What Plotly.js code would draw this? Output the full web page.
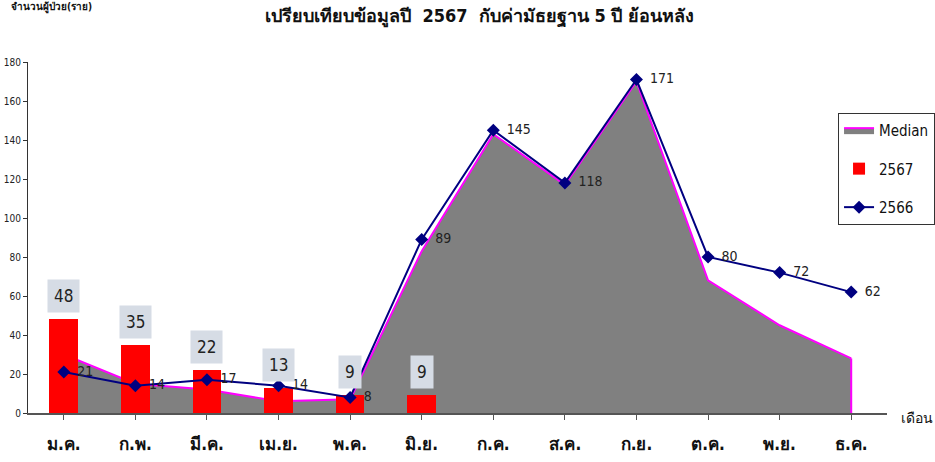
<!DOCTYPE html>
<html>
<head>
<meta charset="utf-8">
<script src="https://cdn.plot.ly/plotly-3.0.1.min.js"></script>
<style>html,body{margin:0;padding:0;background:#fff;}#chart{width:935px;height:462px;}</style>
</head>
<body>
<div id="chart"></div>
<script>
const months = ['ม.ค.','ก.พ.','มี.ค.','เม.ย.','พ.ค.','มิ.ย.','ก.ค.','ส.ค.','ก.ย.','ต.ค.','พ.ย.','ธ.ค.'];
const median = [30, 15, 12, 6, 7, 83, 143, 117, 170, 68, 45, 28];
const y2567 = [48, 35, 22, 13, 9, 9, null, null, null, null, null, null];
const y2566 = [21, 14, 17, 14, 8, 89, 145, 118, 171, 80, 72, 62];

const FONT = '"DejaVu Sans Condensed", "Liberation Sans Narrow", "Arial Narrow", sans-serif';

function f(size, color, weight) {
  return {family: FONT, size: size, color: color || '#111', stretch: 'condensed', weight: weight || 'normal'};
}

const traces = [
  {
    type: 'scatter', mode: 'lines', name: 'Median', x: months, y: median,
    fill: 'tozeroy', fillcolor: '#808080', line: {color: '#ff00ff', width: 2},
    xaxis: 'x', yaxis: 'y', legendgroup: 'a', hoverinfo: 'skip'
  },
  {
    type: 'bar', name: '2567', x: months, y: y2567, width: 0.4,
    marker: {color: '#ff0000'}, xaxis: 'x2', yaxis: 'y2', legendgroup: 'b'
  },
  {
    type: 'scatter', mode: 'lines+markers+text', name: '2566', x: months, y: y2566,
    line: {color: '#000080', width: 2}, marker: {symbol: 'diamond', size: 10, color: '#000080'},
    text: y2566.map(v => '\u2002' + v), textposition: 'middle right',
    textfont: f(14, '#222'),
    xaxis: 'x2', yaxis: 'y2', legendgroup: 'c'
  }
];

const annotations = y2567.map((v, i) => v === null ? null : ({
  x: months[i], y: v, xref: 'x2', yref: 'y2', text: String(v), showarrow: false,
  yanchor: 'bottom', yshift: 6, bgcolor: '#d6dce5', borderpad: 6,
  font: f(17, '#222')
})).filter(a => a);

annotations.push({
  xref: 'paper', yref: 'paper', x: -0.022, y: 1.155, xanchor: 'left', yanchor: 'middle',
  text: '<b>จำนวนผู้ป่วย(ราย)</b>', showarrow: false, font: f(10, '#111')
});
annotations.push({
  xref: 'paper', yref: 'paper', x: 1.014, y: -0.015, xanchor: 'left', yanchor: 'middle',
  text: 'เดือน', showarrow: false, font: f(14, '#111')
});

const shapes = [
  {type: 'line', xref: 'x', yref: 'y', x0: months[11], x1: months[11], y0: 0, y1: median[11],
   line: {color: '#ff00ff', width: 2}, layer: 'above'}
];

const axisCommon = {range: [-0.5, 11.5], type: 'category'};

const layout = {
  width: 935, height: 462,
  margin: {l: 28, r: 48, t: 62, b: 49, autoexpand: false},
  paper_bgcolor: '#fff', plot_bgcolor: '#fff',
  showlegend: true,
  title: {text: '<b>เปรียบเทียบข้อมูลปี  2567  กับค่ามัธยฐาน 5 ปี ย้อนหลัง</b>', x: 0.513, xanchor: 'center', y: 0.965, yanchor: 'middle',
          font: f(18, '#111')},
  xaxis: Object.assign({}, axisCommon, {
    showline: true, linecolor: '#555', linewidth: 2, ticks: 'outside', ticklen: 5, tickcolor: '#555',
    tickfont: f(17, '#111', 'bold'), showgrid: false, zeroline: false,
    ticklabelstandoff: 10
  }),
  yaxis: {
    range: [0, 180], dtick: 20, showline: true, linecolor: '#333', linewidth: 1,
    ticks: 'outside', ticklen: 4, tickcolor: '#333', showgrid: false, zeroline: false,
    tickfont: f(10, '#222')
  },
  xaxis2: Object.assign({}, axisCommon, {overlaying: 'x', visible: false}),
  yaxis2: {range: [0, 180], overlaying: 'y', visible: false},
  legend: {
    x: 0.943, y: 0.855, xanchor: 'left', yanchor: 'top',
    bordercolor: '#333', borderwidth: 1, bgcolor: '#fff',
    font: f(15, '#111'), tracegroupgap: 16, itemwidth: 30
  },
  annotations: annotations,
  shapes: shapes,
  bargap: 0
};

Plotly.newPlot('chart', traces, layout, {displayModeBar: false, staticPlot: true});
</script>
</body>
</html>
